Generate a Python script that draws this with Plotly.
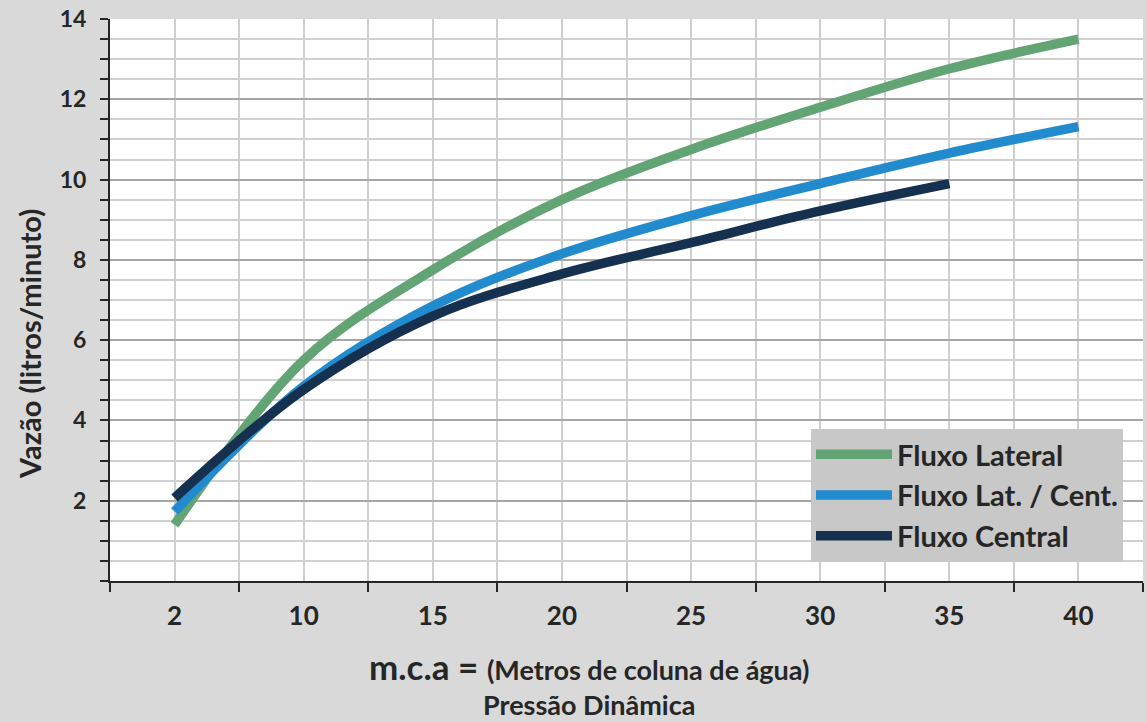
import plotly.graph_objects as go

# categorias do eixo x (o "2" fica na primeira posição da categoria)
pressao_pos = [5, 10, 15, 20, 25, 30, 35, 40]
pressao_txt = ["2", "10", "15", "20", "25", "30", "35", "40"]

fluxo_lateral = [1.4, 5.5, 7.75, 9.5, 10.75, 11.8, 12.76, 13.5]
fluxo_lat_cent = [1.73, 4.85, 6.85, 8.15, 9.1, 9.9, 10.66, 11.32]
fluxo_central = [2.07, 4.77, 6.6, 7.65, 8.43, 9.22, 9.9]

limites = [2.5, 7.5, 12.5, 17.5, 22.5, 27.5, 32.5, 37.5, 42.5]

FONTE = "Lato"
TXT = "#262626"

fig = go.Figure()
fig.add_trace(go.Scatter(x=pressao_pos, y=fluxo_lateral, name="Fluxo Lateral",
                         mode="lines", line=dict(color="#62a474", width=9.5, shape="spline")))
fig.add_trace(go.Scatter(x=pressao_pos, y=fluxo_lat_cent, name="Fluxo Lat. / Cent.",
                         mode="lines", line=dict(color="#228bce", width=9.5, shape="spline")))
fig.add_trace(go.Scatter(x=pressao_pos[:len(fluxo_central)], y=fluxo_central, name="Fluxo Central",
                         mode="lines", line=dict(color="#163050", width=9.5, shape="spline")))

fig.update_layout(
    width=1147, height=722,
    margin=dict(l=110, r=4, t=15, b=141),
    paper_bgcolor="#d9d9d9",
    plot_bgcolor="white",
    font=dict(family=FONTE, color=TXT),
    legend=dict(
        x=0.6786, y=0.034, xanchor="left", yanchor="bottom",
        bgcolor="#c8c8c8",
        font=dict(size=29, weight="bold", color=TXT),
        borderwidth=0,
        itemwidth=76,
    ),
)

fig.update_xaxes(
    range=[2.5, 42.5],
    tickmode="array", tickvals=pressao_pos, ticktext=pressao_txt,
    ticks="", tickfont=dict(size=26, weight="bold", color=TXT),
    ticklabelstandoff=11,
    showgrid=True, gridcolor="#cfcfcf", gridwidth=1.5,
    showline=True, linecolor=TXT, linewidth=2,
    zeroline=False,
    minor=dict(tickmode="array", tickvals=limites, ticks="outside", ticklen=9,
               tickcolor=TXT, tickwidth=2, showgrid=True, gridcolor="#cfcfcf", gridwidth=1.5),
)

fig.update_yaxes(
    range=[0, 14],
    tickmode="array", tickvals=[2, 4, 6, 8, 10, 12, 14],
    ticks="outside", ticklen=8, tickwidth=2, tickcolor=TXT,
    tickfont=dict(size=23, weight="bold", color=TXT),
    ticklabelstandoff=9,
    showgrid=True, gridcolor="#a6a6a6", gridwidth=1.5,
    showline=True, linecolor=TXT, linewidth=2,
    zeroline=False,
    minor=dict(dtick=0.5, tick0=0, ticks="outside", ticklen=8, tickwidth=2, tickcolor=TXT,
               showgrid=True, gridcolor="#d0d0d0", gridwidth=1.5),
)

fig.add_annotation(
    xref="paper", yref="paper", x=-0.0774, y=0.422, xanchor="center", yanchor="middle",
    textangle=-90, showarrow=False, text="Vazão (litros/minuto)",
    font=dict(size=29, weight="bold", color=TXT),
)
fig.add_annotation(
    xref="paper", yref="paper", x=0.464, y=-0.152, yanchor="middle", showarrow=False,
    text="<span style='font-size:35px'>m.c.a = </span>(Metros de coluna de água)",
    font=dict(size=27, weight="bold", color=TXT),
)
fig.add_annotation(
    xref="paper", yref="paper", x=0.464, y=-0.219, yanchor="middle", showarrow=False,
    text="Pressão Dinâmica",
    font=dict(size=27, weight="bold", color=TXT),
)

fig.write_html("out.html", config={"displayModeBar": False},
               post_script="document.body.style.margin='0';")
